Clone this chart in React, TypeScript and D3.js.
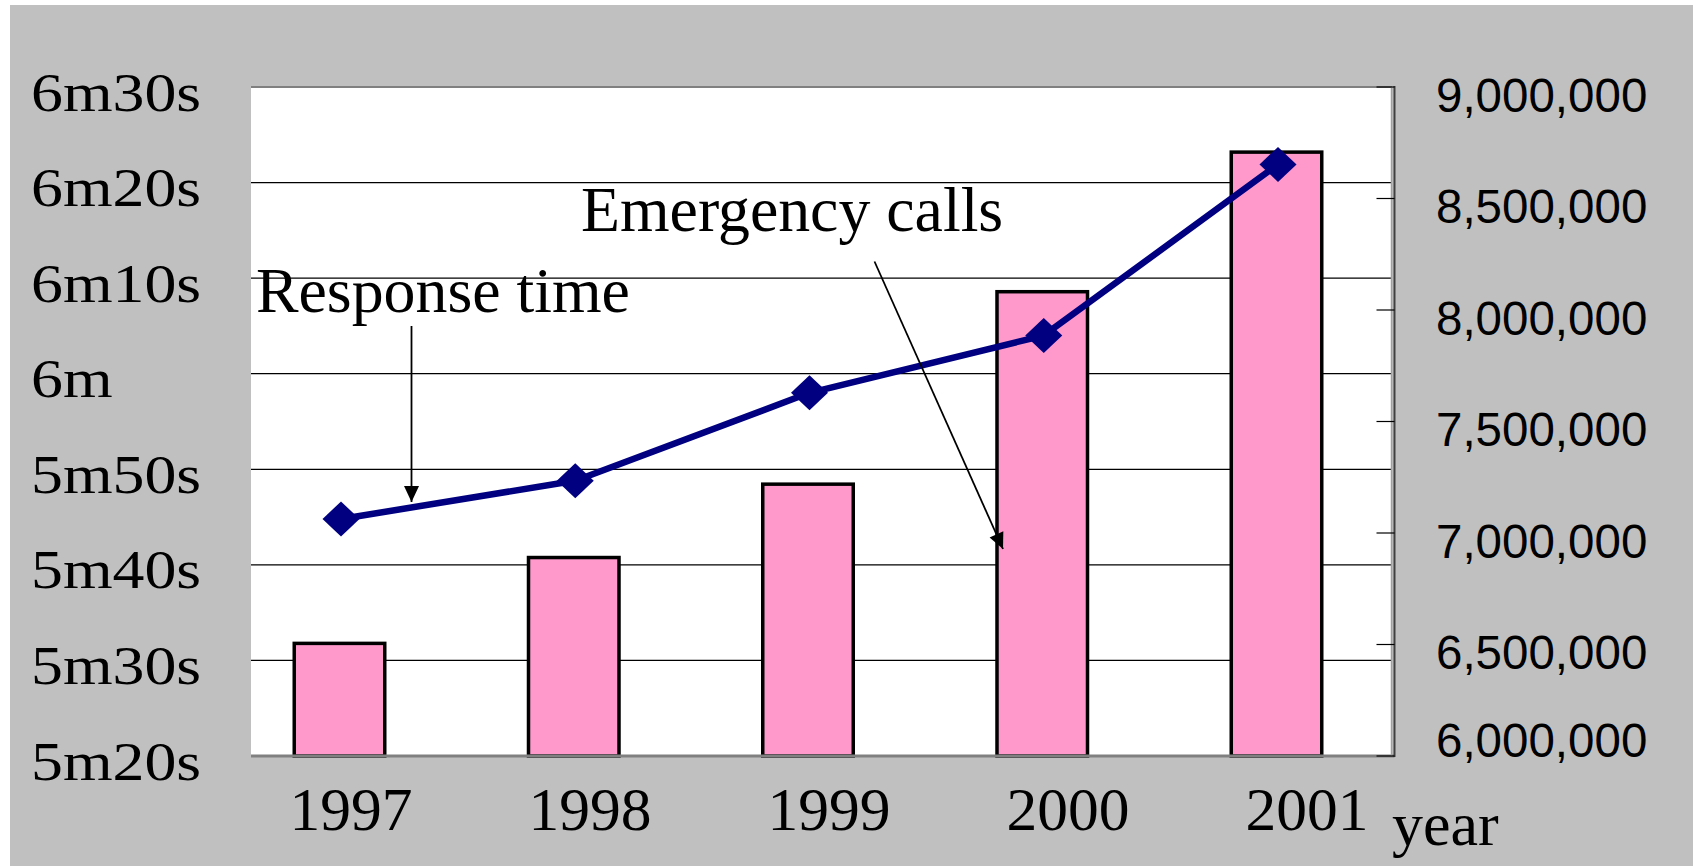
import React from "react";
import * as d3 from "d3";

const years = ["1997", "1998", "1999", "2000", "2001"];
const emergencyCalls = [6505000, 6890000, 7219000, 8082000, 8708000];
const responseSeconds = [344.8, 348.8, 358.0, 364.0, 381.9];
const leftTicks = [320, 330, 340, 350, 360, 370, 380, 390];
const leftTickLabels = ["5m20s", "5m30s", "5m40s", "5m50s", "6m", "6m10s", "6m20s", "6m30s"];
const rightTicks = [6000000, 6500000, 7000000, 7500000, 8000000, 8500000, 9000000];

const W = 1693;
const H = 866;
const plotL = 251;
const plotR = 1392;
const plotT = 87;
const plotB = 756;
const axisX = 1394.5;

const serif = "'Liberation Serif', 'Times New Roman', serif";
const sans = "'Liberation Sans', Arial, sans-serif";

function arrowHead(x1: number, y1: number, x2: number, y2: number, len = 16, half = 7.5) {
  const dx = x2 - x1;
  const dy = y2 - y1;
  const d = Math.hypot(dx, dy);
  const ux = dx / d;
  const uy = dy / d;
  const bx = x2 - ux * len;
  const by = y2 - uy * len;
  const px = -uy * half;
  const py = ux * half;
  return `M${x2},${y2}L${bx + px},${by + py}L${bx - px},${by - py}Z`;
}

export default function App() {
  const yL = d3.scaleLinear().domain([320, 390]).range([plotB, plotT]);
  const yR = d3.scaleLinear().domain([6000000, 9000000]).range([plotB, plotT]);
  const xC = d3.scalePoint<string>().domain(years).range([339.5, 1276.5]);
  const xLabel = d3.scalePoint<string>().domain(years).range([351, 1307]);
  const barW = 90.5;
  const fmt = d3.format(",");

  const lineGen = d3
    .line<number>()
    .x((_, i) => (xC(years[i]) as number) + 1.5)
    .y((d) => yL(d));

  const arrow1 = { x1: 411.5, y1: 326, x2: 411.5, y2: 502 };
  const arrow2 = { x1: 874.5, y1: 261.5, x2: 1003, y2: 549 };

  return (
    <svg
      width={W}
      height={H}
      style={{ position: "absolute", left: 0, top: 0 }}
      xmlns="http://www.w3.org/2000/svg"
    >
      <rect x={0} y={0} width={W} height={H} fill="#ffffff" />
      <rect x={10} y={5} width={W - 10} height={H - 5} fill="#c0c0c0" />
      <rect x={plotL} y={plotT} width={plotR - plotL} height={plotB - plotT} fill="#ffffff" />

      {/* gridlines */}
      {leftTicks.slice(1, -1).map((t) => (
        <line key={t} x1={plotL} x2={plotR} y1={yL(t)} y2={yL(t)} stroke="#000" strokeWidth={1.3} />
      ))}

      {/* bars */}
      {emergencyCalls.map((v, i) => {
        const cx = xC(years[i]) as number;
        return (
          <rect
            key={years[i]}
            x={cx - barW / 2}
            y={yR(v)}
            width={barW}
            height={plotB - yR(v)}
            fill="#ff99cc"
            stroke="#000"
            strokeWidth={3.5}
          />
        );
      })}

      {/* plot borders */}
      <line x1={plotL} x2={plotR} y1={plotT} y2={plotT} stroke="#808080" strokeWidth={2} />
      <line x1={plotL} x2={axisX} y1={plotB} y2={plotB} stroke="#808080" strokeWidth={3} />
      <line x1={plotR - 0.5} x2={plotR - 0.5} y1={plotT} y2={plotB} stroke="#a0a0a0" strokeWidth={1.5} />
      <line x1={axisX} x2={axisX} y1={plotT - 1} y2={plotB + 1} stroke="#404040" strokeWidth={2} />
      {rightTicks.map((t) => (
        <line key={t} x1={axisX - 18} x2={axisX} y1={yR(t)} y2={yR(t)} stroke="#000" strokeWidth={1.2} />
      ))}

      {/* response time line */}
      <path d={lineGen(responseSeconds) || ""} fill="none" stroke="#000080" strokeWidth={6.5} strokeLinejoin="round" />
      {responseSeconds.map((v, i) => {
        const cx = (xC(years[i]) as number) + 1.5;
        const cy = yL(v);
        return (
          <path
            key={years[i]}
            d={`M${cx},${cy - 17.5}L${cx + 18.5},${cy}L${cx},${cy + 17.5}L${cx - 18.5},${cy}Z`}
            fill="#000080"
          />
        );
      })}

      {/* left axis labels */}
      {leftTicks.map((t, i) => (
        <text
          key={t}
          transform={`translate(31,${yL(t) + 23.5}) scale(1.15,1)`}
          fontFamily={serif}
          fontSize={55.5}
          fill="#000"
        >
          {leftTickLabels[i]}
        </text>
      ))}

      {/* right axis labels */}
      {rightTicks.map((t) => (
        <text
          key={t}
          x={1436}
          y={Math.min(yR(t) + 24.5, plotB + 1)}
          fontFamily={sans}
          fontSize={47.5}
          fill="#000"
        >
          {fmt(t)}
        </text>
      ))}

      {/* x labels */}
      {years.map((y) => (
        <text
          key={y}
          x={xLabel(y) as number}
          y={830}
          textAnchor="middle"
          fontFamily={serif}
          fontSize={61.5}
          fill="#000"
        >
          {y}
        </text>
      ))}
      <text x={1392} y={845} fontFamily={serif} fontSize={62} fill="#000">
        year
      </text>

      {/* annotations */}
      <text x={256} y={311.5} fontFamily={serif} fontSize={63.8} fill="#000">
        Response time
      </text>
      <text x={581} y={230.5} fontFamily={serif} fontSize={63.8} fill="#000">
        Emergency calls
      </text>
      {[arrow1, arrow2].map((a, i) => (
        <g key={i}>
          <line x1={a.x1} y1={a.y1} x2={a.x2} y2={a.y2} stroke="#000" strokeWidth={1.8} />
          <path d={arrowHead(a.x1, a.y1, a.x2, a.y2)} fill="#000" />
        </g>
      ))}
    </svg>
  );
}
